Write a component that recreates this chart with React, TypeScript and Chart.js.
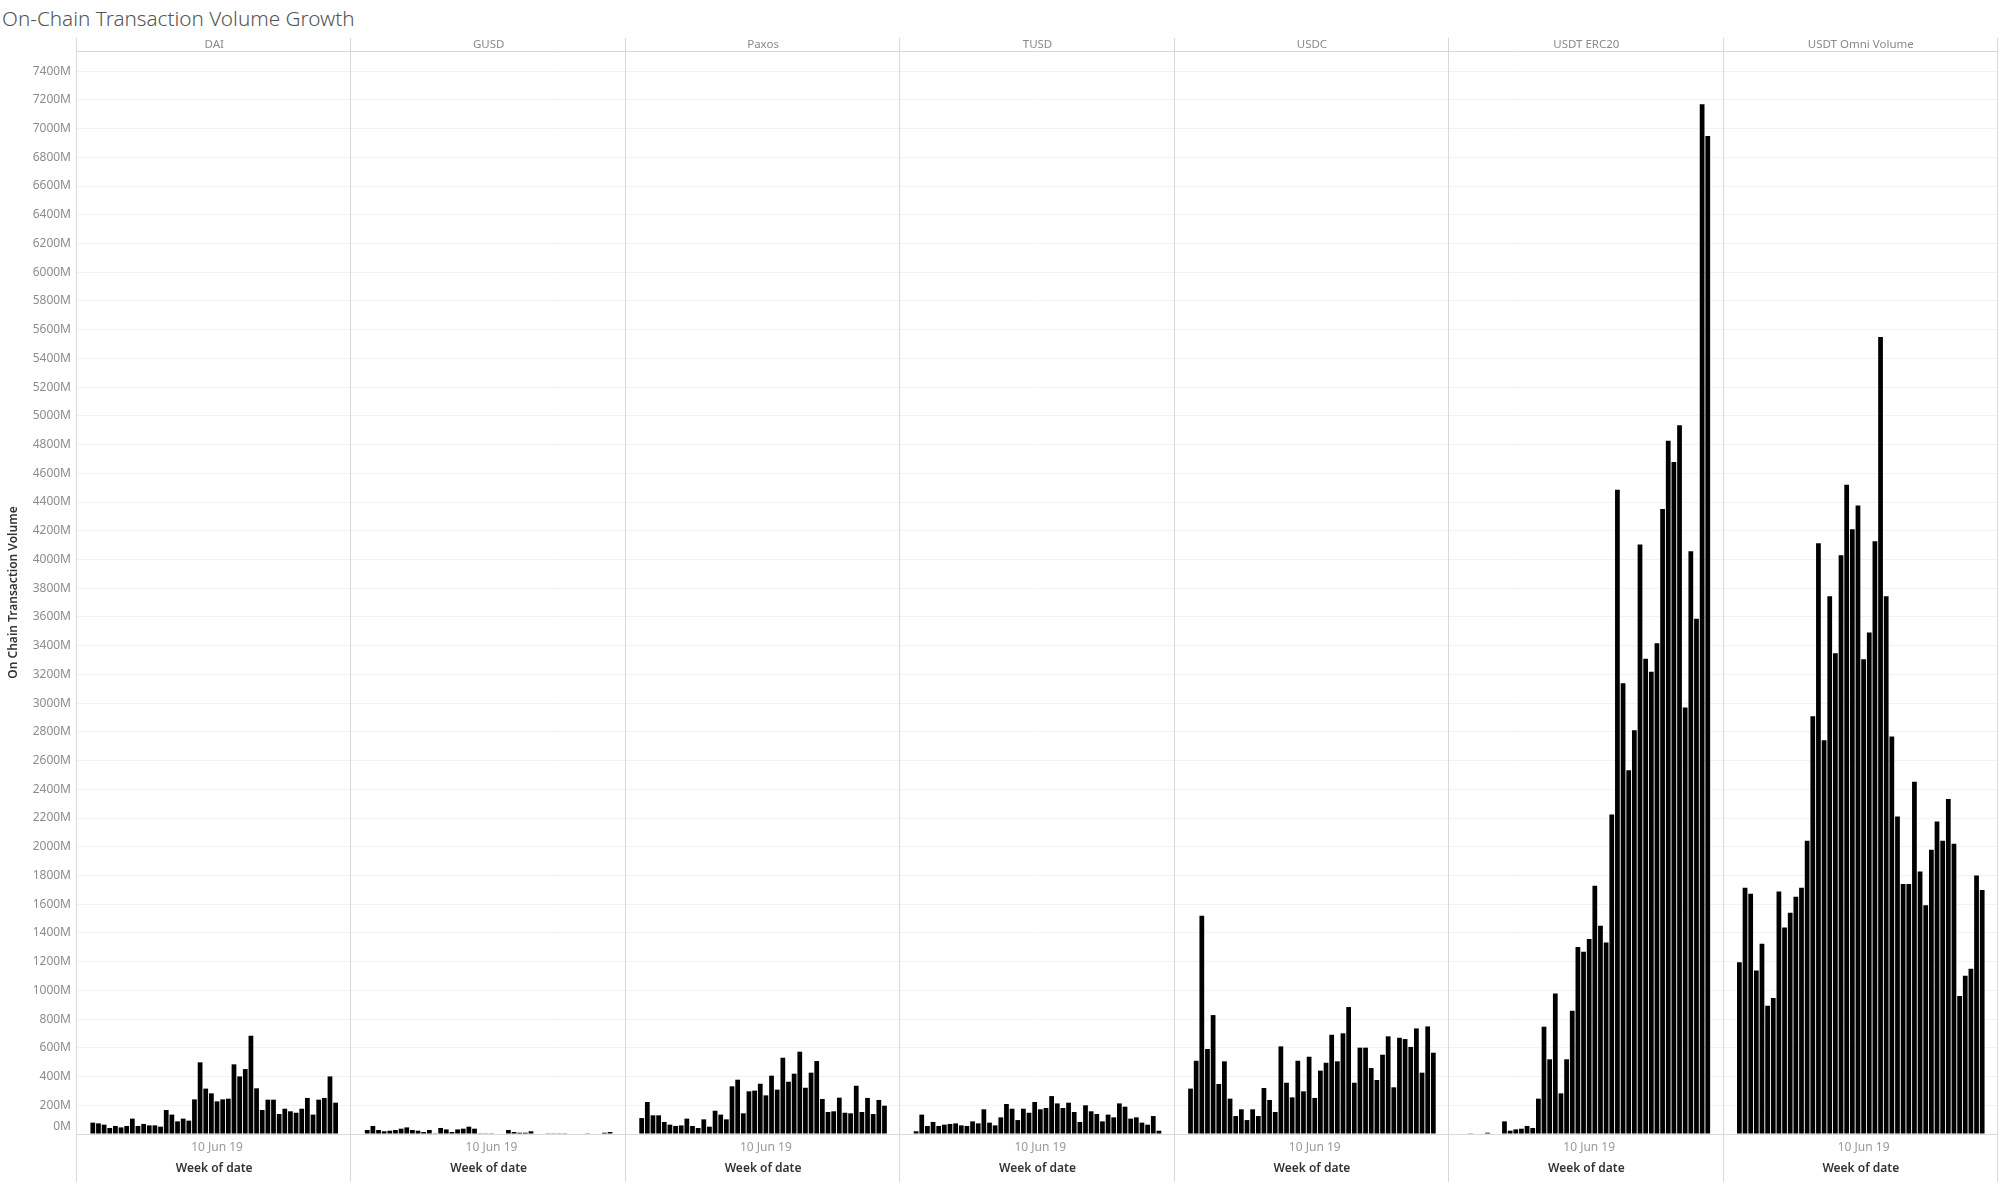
import { useEffect, useRef } from 'react';
import { Chart, registerables } from 'chart.js';

Chart.register(...registerables);

// ---------- data ----------
const weeks = [
  '07 Jan 19', '14 Jan 19', '21 Jan 19', '28 Jan 19', '04 Feb 19', '11 Feb 19', '18 Feb 19', '25 Feb 19',
  '04 Mar 19', '11 Mar 19', '18 Mar 19', '25 Mar 19', '01 Apr 19', '08 Apr 19', '15 Apr 19', '22 Apr 19',
  '29 Apr 19', '06 May 19', '13 May 19', '20 May 19', '27 May 19', '03 Jun 19', '10 Jun 19', '17 Jun 19',
  '24 Jun 19', '01 Jul 19', '08 Jul 19', '15 Jul 19', '22 Jul 19', '29 Jul 19', '05 Aug 19', '12 Aug 19',
  '19 Aug 19', '26 Aug 19', '02 Sep 19', '09 Sep 19', '16 Sep 19', '23 Sep 19', '30 Sep 19', '07 Oct 19',
  '14 Oct 19', '21 Oct 19', '28 Oct 19', '04 Nov 19',
];

const shownWeekTicks = ['10 Jun 19'];

const panelNames = ['DAI', 'GUSD', 'Paxos', 'TUSD', 'USDC', 'USDT ERC20', 'USDT Omni Volume'];

// On-chain transaction volume, millions
const dai = [
  79, 74, 65, 42, 56, 46, 56, 107, 56, 70, 60, 60, 51, 167, 135, 88, 107, 93, 241, 499, 316, 283,
  227, 241, 246, 485, 401, 452, 684, 318, 167, 239, 239, 139, 176, 158, 148, 176, 251, 135, 239, 251, 401, 218,
];
const gusd = [
  28, 56, 28, 19, 23, 28, 37, 46, 28, 23, 14, 28, 5, 42, 32, 14, 32, 37, 51, 37, 5, 5,
  5, 0, 0, 28, 14, 9, 9, 19, 0, 0, 2, 5, 5, 5, 0, 0, 0, 5, 0, 0, 9, 14,
];
const paxos = [
  111, 223, 130, 130, 84, 65, 56, 60, 107, 56, 42, 102, 51, 162, 135, 102, 332, 378, 144, 297, 302, 350,
  269, 406, 309, 531, 364, 420, 573, 322, 427, 508, 244, 153, 158, 253, 148, 144, 336, 153, 251, 139, 237, 197,
];
const tusd = [
  19, 135, 56, 84, 56, 65, 70, 74, 60, 56, 88, 74, 172, 79, 60, 116, 209, 176, 97, 176, 148, 223,
  172, 181, 264, 213, 181, 218, 153, 84, 200, 158, 139, 88, 135, 116, 213, 190, 107, 116, 79, 65, 125, 23,
];
const usdc = [
  316, 510, 1520, 592, 828, 348, 506, 246, 125, 172, 97, 172, 125, 320, 237, 153, 610, 357, 255, 510, 297, 538,
  251, 441, 496, 691, 506, 701, 884, 357, 601, 601, 459, 376, 552, 680, 325, 670, 661, 606, 735, 427, 749, 566,
];
const usdtErc20 = [
  0, 5, 0, 0, 9, 0, 0, 88, 23, 32, 37, 56, 42, 246, 747, 520, 979, 283, 520, 858, 1302, 1269,
  1357, 1728, 1450, 1334, 2225, 4486, 3139, 2533, 2811, 4104, 3308, 3218, 3417, 4352, 4827, 4679, 4934, 2969, 4057, 3587, 7170, 6948,
];
const usdtOmni = [
  1195, 1714, 1673, 1139, 1325, 893, 947, 1689, 1438, 1540, 1652, 1714, 2042, 2909, 4113, 2742, 3744, 3347, 4029, 4521, 4210, 4375,
  3306, 3491, 4127, 5549, 3744, 2768, 2211, 1740, 1740, 2452, 1828, 1592, 1979, 2176, 2042, 2332, 2021, 960, 1102, 1151, 1800, 1698,
];

const panelValues = [dai, gusd, paxos, tusd, usdc, usdtErc20, usdtOmni];

const yAxisMax = 7540;
const yAxisStep = 200;

// ---------- layout helpers ----------
const PAD = 2.3; // empty category units on each side of a panel
const SPAN = weeks.length + 2 * PAD;
const panelStart = (p: number) => p * SPAN - 0.5 - PAD;

const FONT = '"Noto Sans", "Liberation Sans", Arial, sans-serif';

const facetPlugin = {
  id: 'facets',
  beforeDatasetsDraw(chart: any) {
    const { ctx, chartArea, scales } = chart;
    const x = scales.x;
    ctx.save();
    ctx.strokeStyle = '#d9d9d9';
    ctx.lineWidth = 1;
    for (let p = 0; p <= panelNames.length; p++) {
      const px = Math.round(x.getPixelForValue(panelStart(p))) - 0.5;
      ctx.beginPath();
      ctx.moveTo(px, 38);
      ctx.lineTo(px, chart.height);
      ctx.stroke();
    }
    ctx.beginPath();
    ctx.moveTo(chartArea.left, Math.round(chartArea.top) + 0.5);
    ctx.lineTo(chartArea.right, Math.round(chartArea.top) + 0.5);
    ctx.stroke();
    ctx.restore();
  },
  afterDraw(chart: any) {
    const { ctx, chartArea, scales } = chart;
    const x = scales.x;
    ctx.save();
    ctx.textAlign = 'center';
    ctx.textBaseline = 'middle';
    for (let p = 0; p < panelNames.length; p++) {
      const l = x.getPixelForValue(panelStart(p));
      const r = x.getPixelForValue(panelStart(p + 1));
      const cx = (l + r) / 2;
      ctx.fillStyle = '#8a8a8a';
      ctx.font = `11.5px ${FONT}`;
      ctx.fillText(panelNames[p], cx, 45);
      ctx.fillStyle = '#333333';
      ctx.font = `600 12px ${FONT}`;
      ctx.fillText('Week of date', cx, chartArea.bottom + 35);
    }
    ctx.restore();
  },
};

export default function App() {
  const canvasRef = useRef<HTMLCanvasElement | null>(null);

  useEffect(() => {
    if (!canvasRef.current) return;
    const data: { x: number; y: number }[] = [];
    panelValues.forEach((vals, p) => {
      vals.forEach((v, i) => data.push({ x: p * SPAN + i, y: v }));
    });

    const chart = new Chart(canvasRef.current, {
      type: 'bar',
      data: {
        datasets: [
          {
            data,
            backgroundColor: '#000000',
            borderWidth: 0,
            barPercentage: 1,
            categoryPercentage: 0.84,
          } as any,
        ],
      },
      options: {
        animation: false,
        responsive: false,
        maintainAspectRatio: false,
        events: [],
        layout: { padding: { left: 0, right: 2, top: 51, bottom: 0 } },
        plugins: {
          legend: { display: false },
          tooltip: { enabled: false },
          title: { display: false },
        },
        scales: {
          x: {
            type: 'linear',
            offset: false,
            min: panelStart(0),
            max: panelStart(panelNames.length),
            grid: { display: false, drawTicks: false, offset: false },
            border: { display: false },
            afterBuildTicks: (scale: any) => {
              const t: { value: number }[] = [];
              for (let p = 0; p < panelNames.length; p++) {
                shownWeekTicks.forEach((w) => t.push({ value: p * SPAN + weeks.indexOf(w) }));
              }
              scale.ticks = t;
            },
            afterFit: (scale: any) => {
              scale.height = 48;
            },
            ticks: {
              autoSkip: false,
              maxRotation: 0,
              padding: 6,
              color: '#999999',
              font: { family: FONT, size: 12 },
              callback: (value: any) => {
                const v = Number(value);
                const p = Math.floor((v - panelStart(0)) / SPAN);
                return weeks[Math.round(v - p * SPAN)];
              },
            },
          },
          y: {
            type: 'linear',
            min: 0,
            max: yAxisMax,
            afterFit: (scale: any) => {
              scale.width = 77;
            },
            border: { display: false },
            grid: {
              drawTicks: false,
              color: (ctx: any) => (ctx.tick && ctx.tick.value === 0 ? '#d9d9d9' : '#f2f2f2'),
              lineWidth: 1,
            },
            ticks: {
              stepSize: yAxisStep,
              autoSkip: false,
              includeBounds: false,
              padding: 6,
              color: '#8c8c8c',
              font: { family: FONT, size: 12 },
              callback: (value: any) => (Number(value) === 0 ? ['0M', ''] : `${value}M`),
            } as any,
            title: {
              display: true,
              text: 'On Chain Transaction Volume',
              color: '#333333',
              font: { family: FONT, size: 12, weight: 600 as any },
              padding: { top: 6, bottom: 0 },
            },
          },
        },
      },
      plugins: [facetPlugin],
    });
    return () => chart.destroy();
  }, []);

  return (
    <div style={{ position: 'absolute', left: 0, top: 0, width: 2000, height: 1182, background: '#ffffff' }}>
      <div
        style={{
          position: 'absolute',
          left: 2,
          top: 5,
          fontFamily: FONT,
          fontSize: 20.7,
          fontWeight: 300,
          lineHeight: '26px',
          color: '#555555',
          whiteSpace: 'nowrap',
        }}
      >
        On-Chain Transaction Volume Growth
      </div>
      <canvas ref={canvasRef} width={2000} height={1182} style={{ position: 'absolute', left: 0, top: 0 }} />
    </div>
  );
}
